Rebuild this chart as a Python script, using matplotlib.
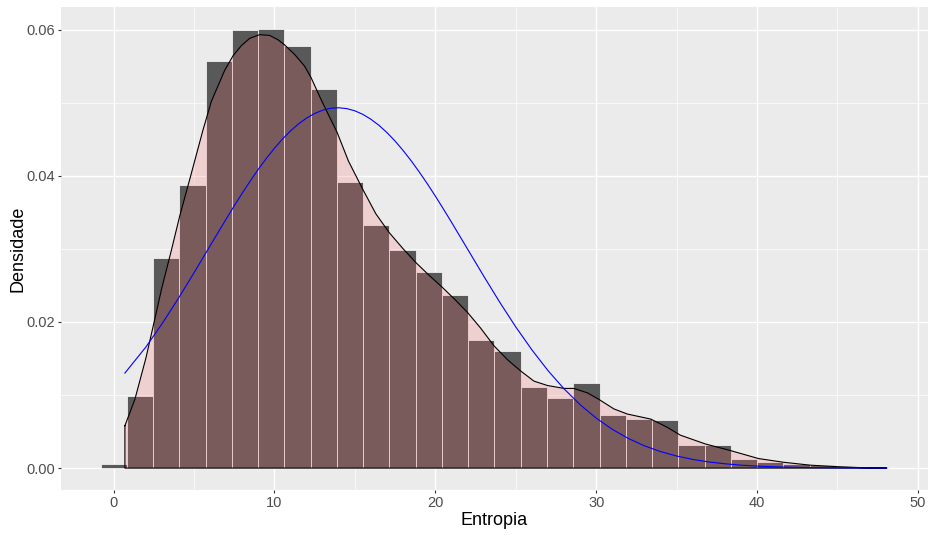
import numpy as np
import matplotlib.pyplot as plt

plt.rcParams['font.family'] = ['Liberation Sans', 'DejaVu Sans']

# histogram (30 bins, density scale)
bin_first_center = 0.0
bin_width = 1.633
hist_density = [0.0006, 0.0099, 0.0288, 0.0388, 0.0557, 0.0599, 0.0601, 0.0577, 0.0519, 0.0392,
                0.0333, 0.0299, 0.0268, 0.0237, 0.0175, 0.0160, 0.0111, 0.0096, 0.0116, 0.0073,
                0.0067, 0.0066, 0.0032, 0.0032, 0.0012, 0.0008, 0.0006, 0.0004, 0.0002, 0.0001]

# kernel density curve
kde_x = [0.70, 1.32, 2.0, 2.56, 2.98, 3.60, 4.11, 4.73, 5.56, 6.08, 6.90, 7.42, 7.94, 8.46,
         9.08, 9.70, 10.22, 10.63, 11.25, 11.87, 12.28, 12.9, 13.9, 14.6, 15.5, 16.3, 17.14,
         18.0, 18.8, 19.6, 20.45, 21.2, 22.0, 22.8, 23.66, 24.5, 25.3, 26.13, 26.97, 28.0, 28.6,
         29.45, 30.17, 31.1, 31.93, 33.4, 34.4, 35.24, 36.79, 38.34, 40.1, 41.64, 43.3, 44.95,
         46.57, 48.06]
kde_y = [0.0058, 0.0094, 0.0150, 0.0204, 0.0245, 0.0299, 0.0345, 0.0395, 0.0463, 0.0502, 0.0544,
         0.0564, 0.0578, 0.0588, 0.0593, 0.0592, 0.0586, 0.0579, 0.0566, 0.0550, 0.0534, 0.0504,
         0.0459, 0.0420, 0.0381, 0.0348, 0.0322, 0.0300, 0.0281, 0.0264, 0.0247, 0.0231, 0.0213,
         0.0192, 0.0167, 0.0148, 0.0133, 0.0119, 0.0113, 0.0109, 0.0109, 0.0103, 0.0094, 0.0081,
         0.0074, 0.0067, 0.0056, 0.0045, 0.0033, 0.0024, 0.0013, 0.0008, 0.0004, 0.0002, 0.00005,
         0.0]

# fitted normal curve
norm_x = [0.7, 2, 3, 4, 5, 6, 7, 7.5, 8, 8.5, 9, 9.5, 10, 10.5, 11, 11.5, 12, 12.5, 13, 13.5,
          14, 14.5, 15, 15.5, 16, 16.5, 17, 17.5, 18, 18.5, 19, 19.5, 20, 20.5, 21, 22, 23, 24,
          25, 26, 27, 28, 29, 30, 31, 32, 33, 34, 35, 36, 37, 38, 39, 40, 41.5, 43, 44.5, 46,
          48.06]
norm_y = [0.01300, 0.01655, 0.01972, 0.02313, 0.02673, 0.03042, 0.03409, 0.03589, 0.03763,
          0.03930, 0.04090, 0.04239, 0.04377, 0.04503, 0.04614, 0.04710, 0.04790, 0.04852,
          0.04897, 0.04923, 0.04930, 0.04918, 0.04888, 0.04839, 0.04772, 0.04689, 0.04589,
          0.04474, 0.04345, 0.04204, 0.04052, 0.03891, 0.03722, 0.03546, 0.03366, 0.02998,
          0.02630, 0.02271, 0.01932, 0.01619, 0.01335, 0.01085, 0.00868, 0.00684, 0.00531,
          0.00405, 0.00305, 0.00226, 0.00165, 0.00119, 0.00084, 0.00059, 0.00040, 0.00027,
          0.00015, 0.00008, 0.00004, 0.00002, 0.00001]

fig = plt.figure(figsize=(9.32, 5.35), dpi=100)
ax = fig.add_axes([0.0655, 0.0841, 0.930, 0.903])
ax.set_facecolor('#EBEBEB')
for s in ax.spines.values():
    s.set_visible(False)

centers = bin_first_center + np.arange(len(hist_density)) * bin_width
ax.bar(centers, hist_density, width=bin_width, color='#595959', edgecolor='white',
       linewidth=0.5, zorder=2)

px = np.r_[kde_x, kde_x[-1], kde_x[0], kde_x[0]]
py = np.r_[kde_y, 0, 0, kde_y[0]]
ax.fill(px, py, facecolor=(1, 0.4, 0.4, 0.2), edgecolor='none', zorder=3)
ax.plot(px, py, color='black', lw=0.8, zorder=4)

ax.plot(norm_x, norm_y, color='blue', lw=0.8, zorder=5)

ax.set_xlim(-3.27, 50.62)
ax.set_ylim(-0.003, 0.0631)
ax.set_xticks([0, 10, 20, 30, 40, 50])
ax.set_xticks([5, 15, 25, 35, 45], minor=True)
ax.set_yticks([0.00, 0.02, 0.04, 0.06])
ax.set_yticklabels(['0.00', '0.02', '0.04', '0.06'])
ax.set_yticks([0.01, 0.03, 0.05], minor=True)
ax.grid(which='major', color='white', lw=1.0)
ax.grid(which='minor', color='white', lw=0.5)
ax.set_axisbelow(True)
ax.tick_params(which='major', length=2.5, width=0.8, pad=2, color='#333333',
               labelcolor='#4D4D4D', labelsize=10.5)
ax.tick_params(which='minor', length=0)

ax.set_xlabel('Entropia', fontsize=13, labelpad=1)
ax.set_ylabel('Densidade', fontsize=13, labelpad=0)

fig.savefig('out.png', dpi=100)
